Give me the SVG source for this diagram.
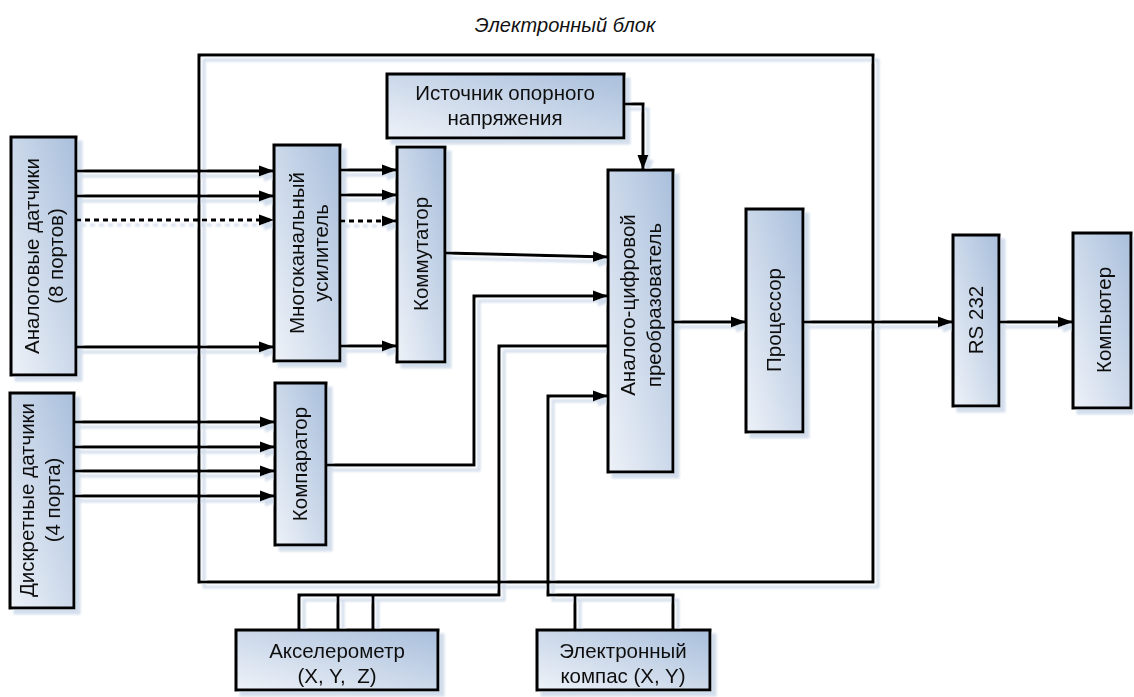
<svg xmlns="http://www.w3.org/2000/svg" width="1134" height="697" viewBox="0 0 1134 697">
<defs>
<linearGradient id="gb" x1="0" y1="1" x2="1" y2="0">
<stop offset="0" stop-color="#eef2f8"/>
<stop offset="1" stop-color="#a9bfdc"/>
</linearGradient>
<filter id="sh" x="0" y="0" width="1134" height="697" filterUnits="userSpaceOnUse">
<feOffset in="SourceAlpha" dx="5" dy="5" result="o"/>
<feGaussianBlur in="o" stdDeviation="1" result="ob"/>
<feFlood flood-color="#d3deec" result="f"/>
<feComposite in="f" in2="ob" operator="in" result="s"/>
<feMerge><feMergeNode in="s"/><feMergeNode in="SourceGraphic"/></feMerge>
</filter>
<marker id="ar" markerUnits="userSpaceOnUse" markerWidth="16" markerHeight="12" refX="15" refY="6" orient="auto">
<path d="M0,0.5 L15,6 L0,11.5 z" fill="#000"/>
</marker>
</defs>
<style>
.box{fill:url(#gb);stroke:#000;stroke-width:3}
.t{font-family:"Liberation Sans",Arial,sans-serif;font-size:20.5px;fill:#111;text-anchor:middle}
.c{fill:none;stroke:#000;stroke-width:3}
.a{marker-end:url(#ar)}
.d{stroke-dasharray:5,4}
</style>
<rect width="1134" height="697" fill="#fff"/>
<text class="t" x="565" y="32" font-style="italic" style="font-size:20px">Электронный блок</text>
<g filter="url(#sh)">
<g id="frame"><rect x="199" y="55" width="674" height="527" fill="none" stroke="#000" stroke-width="3"/></g>
<g id="connectors">
<line class="c a" x1="76" y1="171" x2="274" y2="171"/>
<line class="c a" x1="76" y1="196" x2="274" y2="196"/>
<line class="c a d" x1="76" y1="220" x2="274" y2="220"/>
<line class="c a" x1="76" y1="347" x2="274" y2="347"/>
<line class="c a" x1="340" y1="170" x2="397" y2="170"/>
<line class="c a" x1="340" y1="195" x2="397" y2="195"/>
<line class="c a d" x1="340" y1="221" x2="397" y2="221"/>
<line class="c a" x1="340" y1="346" x2="397" y2="346"/>
<line class="c a" x1="74" y1="422" x2="275" y2="422"/>
<line class="c a" x1="74" y1="447" x2="275" y2="447"/>
<line class="c a" x1="74" y1="471" x2="275" y2="471"/>
<line class="c a" x1="74" y1="496" x2="275" y2="496"/>
<line class="c a" x1="445" y1="253" x2="608" y2="257"/>
<polyline class="c a" points="326,465 474,465 474,296 608,296"/>
<polyline class="c a" points="624,104 643,104 643,170"/>
<line class="c a" x1="673" y1="322" x2="746" y2="322"/>
<line class="c a" x1="803" y1="322" x2="953" y2="322"/>
<line class="c a" x1="999" y1="322" x2="1073" y2="322"/>
<polyline class="c" points="608,346 499,346 499,595 299,595 299,630"/>
<line class="c" x1="338" y1="595" x2="338" y2="630"/>
<line class="c" x1="373" y1="595" x2="373" y2="630"/>
<polyline class="c a" points="673,630 673,595 548,595 548,396 608,396"/>
<line class="c" x1="575" y1="595" x2="575" y2="630"/>
</g>
<g id="analog"><rect class="box" x="11" y="137" width="65" height="238"/>
<g transform="translate(43,256) rotate(-90)"><text class="t" y="-4">Аналоговые датчики</text><text class="t" y="20">(8 портов)</text></g></g>
<g id="discrete"><rect class="box" x="10" y="393" width="64" height="215"/>
<g transform="translate(40,500) rotate(-90)"><text class="t" y="-6">Дискретные датчики</text><text class="t" y="20">(4 порта)</text></g></g>
<g id="amp"><rect class="box" x="274" y="145" width="66" height="216"/>
<g transform="translate(308,253) rotate(-90)"><text class="t" y="-4">Многоканальный</text><text class="t" y="20">усилитель</text></g></g>
<g id="komm"><rect class="box" x="397" y="147" width="48" height="215"/>
<g transform="translate(421,254) rotate(-90)"><text class="t" y="7">Коммутатор</text></g></g>
<g id="comp"><rect class="box" x="275" y="383" width="51" height="162"/>
<g transform="translate(300,464) rotate(-90)"><text class="t" y="7">Компаратор</text></g></g>
<g id="ref"><rect class="box" x="387" y="74" width="237" height="64"/>
<text class="t" x="505" y="100">Источник опорного</text><text class="t" x="505" y="125">напряжения</text></g>
<g id="adc"><rect class="box" x="608" y="170" width="65" height="302"/>
<g transform="translate(641,305) rotate(-90)"><text class="t" y="-6">Аналого-цифровой</text><text class="t" y="20">преобразователь</text></g></g>
<g id="proc"><rect class="box" x="746" y="209" width="57" height="223"/>
<g transform="translate(774,320) rotate(-90)"><text class="t" y="7">Процессор</text></g></g>
<g id="rs232"><rect class="box" x="953" y="235" width="46" height="171"/>
<g transform="translate(976,320) rotate(-90)"><text class="t" y="7">RS 232</text></g></g>
<g id="pc"><rect class="box" x="1073" y="233" width="58" height="175"/>
<g transform="translate(1104,320) rotate(-90)"><text class="t" y="7">Компьютер</text></g></g>
<g id="accel"><rect class="box" x="236" y="630" width="202" height="60"/>
<text class="t" x="337" y="658">Акселерометр</text><text class="t" x="337" y="683" xml:space="preserve">(X, Y,  Z)</text></g>
<g id="compass"><rect class="box" x="537" y="630" width="173" height="60"/>
<text class="t" x="623" y="658">Электронный</text><text class="t" x="623" y="683">компас (X, Y)</text></g>
</g>
</svg>
